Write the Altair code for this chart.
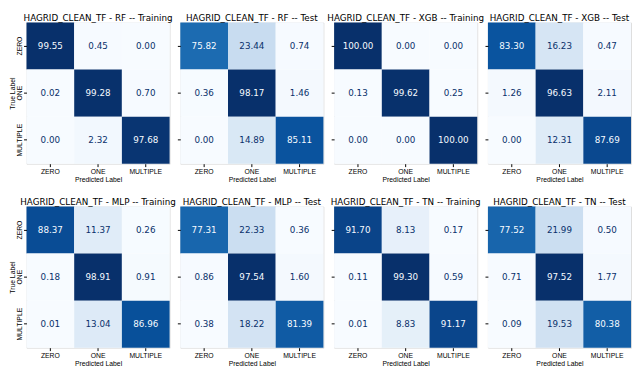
import altair as alt
import pandas as pd

labels = ["ZERO", "ONE", "MULTIPLE"]

titles = [
    "HAGRID_CLEAN_TF - RF -- Training",
    "HAGRID_CLEAN_TF - RF -- Test",
    "HAGRID_CLEAN_TF - XGB -- Training",
    "HAGRID_CLEAN_TF - XGB -- Test",
    "HAGRID_CLEAN_TF - MLP -- Training",
    "HAGRID_CLEAN_TF - MLP -- Test",
    "HAGRID_CLEAN_TF - TN -- Training",
    "HAGRID_CLEAN_TF - TN -- Test",
]

rf_train = [[99.55, 0.45, 0.00], [0.02, 99.28, 0.70], [0.00, 2.32, 97.68]]
rf_test = [[75.82, 23.44, 0.74], [0.36, 98.17, 1.46], [0.00, 14.89, 85.11]]
xgb_train = [[100.00, 0.00, 0.00], [0.13, 99.62, 0.25], [0.00, 0.00, 100.00]]
xgb_test = [[83.30, 16.23, 0.47], [1.26, 96.63, 2.11], [0.00, 12.31, 87.69]]
mlp_train = [[88.37, 11.37, 0.26], [0.18, 98.91, 0.91], [0.01, 13.04, 86.96]]
mlp_test = [[77.31, 22.33, 0.36], [0.86, 97.54, 1.60], [0.38, 18.22, 81.39]]
tn_train = [[91.70, 8.13, 0.17], [0.11, 99.30, 0.59], [0.01, 8.83, 91.17]]
tn_test = [[77.52, 21.99, 0.50], [0.71, 97.52, 1.77], [0.09, 19.53, 80.38]]

matrices = [rf_train, rf_test, xgb_train, xgb_test,
            mlp_train, mlp_test, tn_train, tn_test]

BLUES = ["#f7fbff", "#deebf7", "#c6dbef", "#9ecae1", "#6baed6",
         "#4292c6", "#2171b5", "#08519c", "#08306b"]

FONT = "DejaVu Sans"
W = 147
H = 145


def panel(title, mat, show_y):
    rows = []
    for i, t in enumerate(labels):
        for j, p in enumerate(labels):
            rows.append({"true": t, "pred": p, "v": mat[i][j]})
    df = pd.DataFrame(rows)
    vals = [v for r in mat for v in r]
    lo, hi = min(vals), max(vals)
    dom = [lo + k * (hi - lo) / 8 for k in range(9)]
    thr = (lo + hi) / 2
    x = alt.X("pred:N", sort=labels,
              scale=alt.Scale(paddingInner=0, paddingOuter=0),
              axis=alt.Axis(title="Predicted Label", labelAngle=0,
                            labelFontSize=7, titleFontSize=7,
                            titleFontWeight="normal", tickSize=3,
                            labelPadding=1, titlePadding=1, domain=False,
                            tickColor="#000", labelColor="#000",
                            titleColor="#000"))
    y = alt.Y("true:N", sort=labels,
              scale=alt.Scale(paddingInner=0, paddingOuter=0),
              axis=alt.Axis(title="True Label" if show_y else "",
                            labels=show_y, labelAngle=-90,
                            labelFontSize=7, titleFontSize=7,
                            titleFontWeight="normal", tickSize=3,
                            labelPadding=1, titlePadding=0, domain=False,
                            tickColor="#000", labelColor="#000",
                            titleColor="#000"))
    base = alt.Chart(df).encode(x=x, y=y)
    rect = base.mark_rect().encode(
        color=alt.Color("v:Q", scale=alt.Scale(domain=dom, range=BLUES),
                        legend=None))
    text = base.mark_text(fontSize=9, font=FONT).encode(
        text=alt.Text("v:Q", format=".2f"),
        color=alt.condition(f"datum.v > {thr}", alt.value("#f7fbff"),
                            alt.value("#08306b")))
    return alt.layer(rect, text).properties(
        width=W, height=H,
        title=alt.Title(title, fontSize=9, font=FONT, fontWeight="normal",
                        color="#000", offset=0))


charts = [panel(titles[k], matrices[k], k % 4 == 0) for k in range(8)]

chart = alt.concat(
    *charts, columns=4, spacing={"row": 44, "column": 11}, bounds="flush"
).resolve_scale(
    color="independent", x="independent", y="independent"
).properties(
    padding=0
).configure_view(
    stroke="#111", strokeWidth=1
).configure_axis(
    labelFont=FONT, titleFont=FONT
).configure(background="white")

chart.save("out.html", embed_options={"renderer": "svg", "actions": False})
